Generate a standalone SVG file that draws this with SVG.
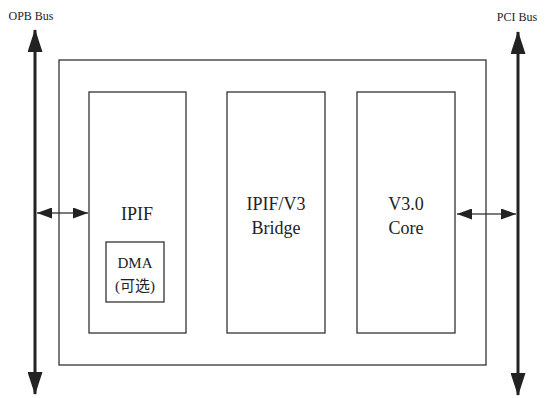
<svg xmlns="http://www.w3.org/2000/svg" width="545" height="398" viewBox="0 0 545 398">
<style>
.box{fill:none;stroke:#333;stroke-width:1.3}
.bus{stroke:#222;stroke-width:3;fill:none}
.lnk{stroke:#222;stroke-width:1.2;fill:none}
.t{font-family:'Liberation Serif',serif;fill:#222;text-anchor:middle}
.cjk{font-family:'Liberation Serif','Noto Sans CJK SC',serif}
.big{font-size:18px}
.sm{font-size:12px}
.dm{font-size:15px}
</style>
<defs>
<marker id="big" markerUnits="userSpaceOnUse" markerWidth="23" markerHeight="15" refX="22" refY="7.5" orient="auto" viewBox="0 0 23 15">
<path d="M0,0 L23,7.5 L0,15 z" fill="#222"/>
</marker>
<marker id="sm" markerUnits="userSpaceOnUse" markerWidth="15" markerHeight="11" refX="15" refY="5.5" orient="auto" viewBox="0 0 15 11">
<path d="M0,0 L15,5.5 L0,11 z" fill="#222"/>
</marker>
</defs>
<text class="t sm" x="31" y="20">OPB Bus</text>
<text class="t sm" x="517" y="21">PCI Bus</text>
<g id="connectors">
<line class="bus" x1="35" y1="213" x2="35" y2="30" marker-end="url(#big)"/>
<line class="bus" x1="35" y1="213" x2="35" y2="394" marker-end="url(#big)"/>
<line class="bus" x1="518" y1="214" x2="518" y2="32" marker-end="url(#big)"/>
<line class="bus" x1="518" y1="214" x2="518" y2="395" marker-end="url(#big)"/>
<line class="lnk" x1="62" y1="213" x2="37" y2="213" marker-end="url(#sm)"/>
<line class="lnk" x1="62" y1="213" x2="88" y2="213" marker-end="url(#sm)"/>
<line class="lnk" x1="486" y1="214" x2="457" y2="214" marker-end="url(#sm)"/>
<line class="lnk" x1="486" y1="214" x2="516" y2="214" marker-end="url(#sm)"/>
</g>
<g id="outer"><rect class="box" x="59" y="60" width="427" height="305"/></g>
<g id="ipif">
<rect class="box" x="89" y="92" width="97" height="241"/>
<text class="t big" x="137" y="220">IPIF</text>
</g>
<g id="dma">
<rect class="box" x="106" y="242" width="58" height="60"/>
<text class="t dm" x="135" y="268">DMA</text>
<text class="t dm cjk" x="135" y="291">(可选)</text>
</g>
<g id="bridge">
<rect class="box" x="227" y="92" width="98" height="241"/>
<text class="t big" x="276" y="210">IPIF/V3</text>
<text class="t big" x="276" y="234">Bridge</text>
</g>
<g id="core">
<rect class="box" x="357" y="92" width="98" height="241"/>
<text class="t big" x="406" y="210">V3.0</text>
<text class="t big" x="406" y="234">Core</text>
</g>
</svg>
